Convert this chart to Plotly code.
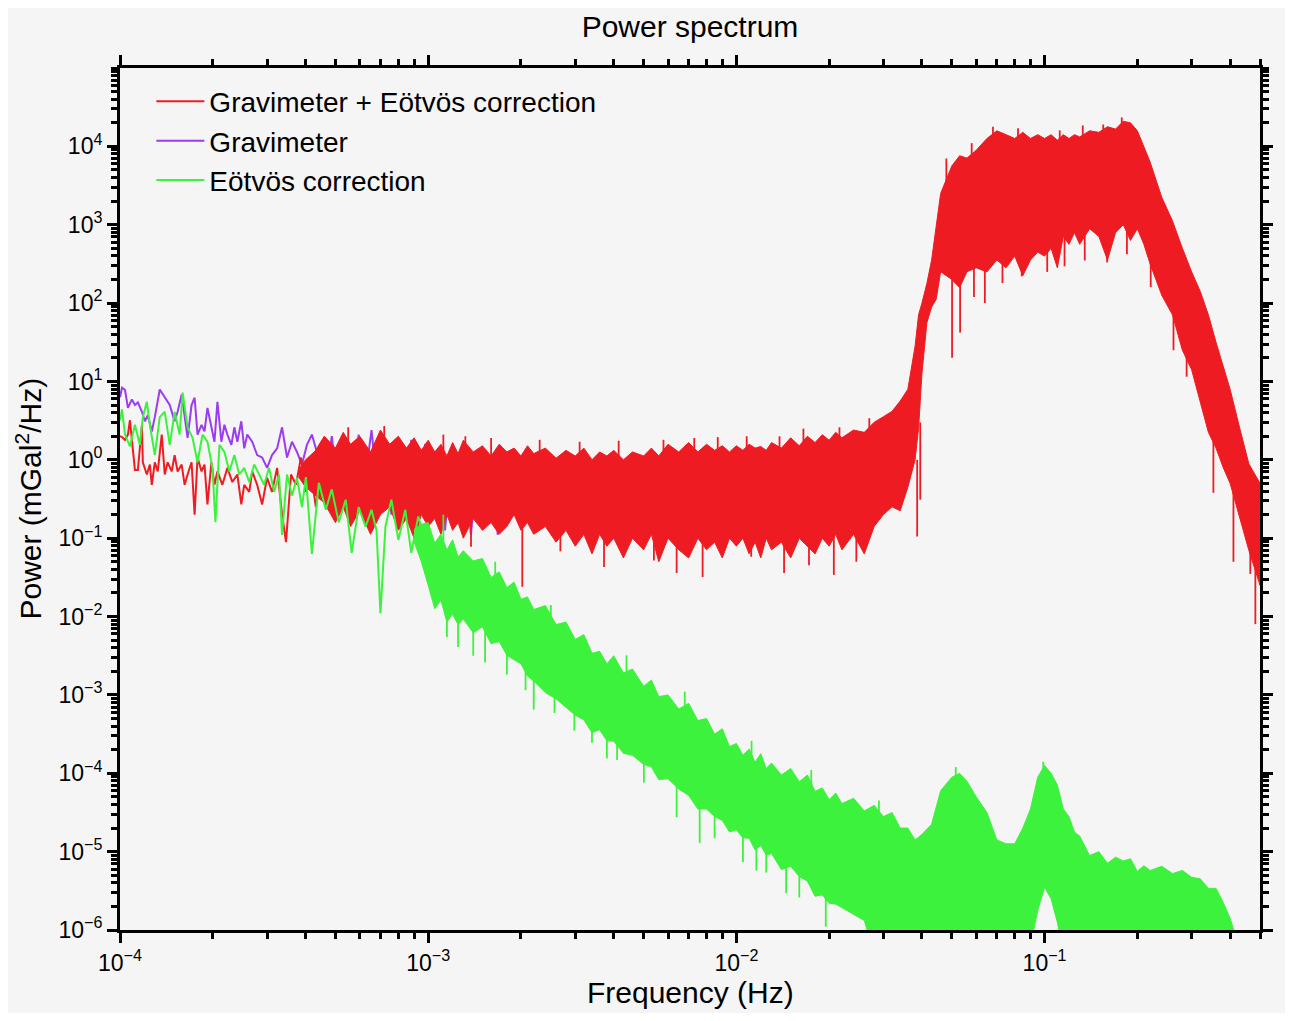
import plotly.graph_objects as go

# ---------------- data ----------------
# Gravimeter (purple) - visible low-frequency part
grav_freq = [1.000e-4, 1.015e-4, 1.038e-4, 1.061e-4, 1.093e-4, 1.118e-4, 1.143e-4, 1.178e-4, 1.204e-4, 1.231e-4,
             1.268e-4, 1.297e-4, 1.346e-4, 1.397e-4, 1.450e-4, 1.504e-4, 1.538e-4, 1.585e-4, 1.621e-4, 1.657e-4,
             1.707e-4, 1.746e-4, 1.785e-4, 1.839e-4, 1.880e-4, 1.922e-4, 1.980e-4, 2.025e-4, 2.071e-4, 2.133e-4,
             2.182e-4, 2.231e-4, 2.298e-4, 2.350e-4, 2.403e-4, 2.475e-4, 2.530e-4, 2.588e-4, 2.685e-4, 2.787e-4,
             2.892e-4, 3.001e-4, 3.114e-4, 3.234e-4, 3.356e-4, 3.483e-4, 3.615e-4, 3.752e-4, 3.894e-4, 4.041e-4,
             4.194e-4, 4.353e-4, 4.517e-4, 4.653e-4, 4.866e-4, 5.126e-4, 5.400e-4, 5.646e-4, 5.946e-4, 6.263e-4,
             6.548e-4, 6.897e-4, 7.265e-4, 7.596e-4, 8.001e-4, 8.428e-4, 8.813e-4, 9.284e-4, 9.779e-4, 1.023e-3,
             1.077e-3, 1.134e-3, 1.186e-3, 1.250e-3, 1.317e-3, 1.376e-3, 1.450e-3, 1.527e-3, 1.597e-3, 1.682e-3]
grav_power = [6.3, 8.3, 7.8, 4.6, 5.9, 5.0, 5.4, 4.1, 3.1, 3.7,
              2.3, 3.5, 7.9, 6.2, 5.0, 3.1, 4.1, 6.8, 3.7, 1.9,
              5.0, 6.2, 2.1, 2.8, 2.3, 4.6, 2.6, 1.7, 5.5, 1.7,
              2.8, 2.1, 1.55, 2.6, 1.7, 3.1, 1.4, 2.1, 1.7, 1.15,
              1.07, 0.79, 1.15, 1.4, 2.6, 1.07, 1.7, 1.26, 0.87, 1.55,
              2.1, 1.26, 1.7, 0.50, 2.0, 0.35, 1.8, 0.25, 2.1, 0.63,
              2.4, 0.32, 1.6, 0.20, 1.4, 0.40, 1.8, 0.14, 1.6, 0.28,
              1.26, 0.126, 1.12, 0.25, 1.4, 0.11, 1.0, 0.20, 0.89, 0.11]

# Gravimeter + Eotvos correction (red) - sparse low-frequency line
comb_freq = [1.000e-4, 1.015e-4, 1.038e-4, 1.061e-4, 1.077e-4, 1.101e-4, 1.118e-4, 1.143e-4, 1.178e-4, 1.186e-4,
             1.222e-4, 1.250e-4, 1.268e-4, 1.297e-4, 1.326e-4, 1.366e-4, 1.397e-4, 1.428e-4, 1.471e-4, 1.504e-4,
             1.538e-4, 1.585e-4, 1.621e-4, 1.657e-4, 1.707e-4, 1.746e-4, 1.785e-4, 1.839e-4, 1.880e-4, 1.922e-4,
             1.980e-4, 2.025e-4, 2.071e-4, 2.149e-4, 2.231e-4, 2.315e-4, 2.403e-4, 2.475e-4, 2.530e-4, 2.627e-4,
             2.685e-4, 2.787e-4, 2.892e-4, 3.001e-4, 3.114e-4, 3.234e-4, 3.356e-4, 3.457e-4, 3.588e-4, 3.724e-4,
             3.865e-4, 4.011e-4, 4.163e-4, 4.320e-4, 4.484e-4]
comb_power = [2.0, 1.95, 1.8, 2.1, 3.2, 1.26, 0.74, 0.74, 2.8, 0.93,
              0.65, 0.87, 0.48, 0.93, 0.71, 2.1, 0.65, 0.93, 0.71, 1.15,
              0.71, 0.87, 0.48, 0.65, 0.93, 0.20, 1.07, 0.71, 0.87, 0.27,
              0.93, 0.48, 0.71, 0.48, 0.79, 0.52, 0.65, 0.27, 0.48, 0.39,
              0.71, 0.48, 0.27, 0.59, 0.39, 0.79, 0.20, 0.089, 0.65, 0.48,
              1.07, 0.39, 0.71, 0.25, 0.65]

# red: dense part, upper and lower envelope of the spectrum body
comb_band_freq = [3.8e-4, 4.0e-4, 4.3e-4,
                  4.6e-4, 5.0e-4, 5.3e-4, 5.6e-4, 6.0e-4, 6.5e-4, 7.0e-4, 7.5e-4, 8.0e-4, 8.5e-4, 9.0e-4, 9.5e-4,
                  1.0e-3, 1.05e-3, 1.1e-3, 1.15e-3, 1.2e-3, 1.25e-3, 1.3e-3, 1.4e-3, 1.5e-3, 1.6e-3,
                  1.7e-3, 1.8e-3, 1.9e-3, 2.0e-3, 2.1e-3, 2.2e-3, 2.4e-3, 2.6e-3, 2.8e-3, 3.0e-3,
                  3.2e-3, 3.4e-3, 3.6e-3, 3.8e-3, 4.0e-3, 4.3e-3, 4.6e-3, 5.0e-3, 5.3e-3, 5.6e-3,
                  6.0e-3, 6.5e-3, 7.0e-3, 7.5e-3, 8.0e-3, 8.5e-3, 9.0e-3, 9.5e-3,
                  1.0e-2, 1.05e-2, 1.1e-2, 1.15e-2, 1.2e-2, 1.25e-2, 1.3e-2, 1.4e-2, 1.5e-2, 1.6e-2,
                  1.7e-2, 1.8e-2, 1.9e-2, 2.0e-2, 2.1e-2, 2.2e-2, 2.4e-2, 2.6e-2, 2.8e-2, 3.0e-2,
                  3.2e-2, 3.4e-2, 3.6e-2, 3.8e-2, 3.9e-2, 4.0e-2, 4.15e-2, 4.3e-2, 4.45e-2, 4.6e-2,
                  5.0e-2, 5.3e-2, 5.6e-2, 6.0e-2, 6.5e-2, 7.0e-2, 7.5e-2, 8.0e-2, 8.5e-2, 9.0e-2, 9.5e-2,
                  1.0e-1, 1.05e-1, 1.1e-1, 1.15e-1, 1.2e-1, 1.25e-1, 1.3e-1, 1.4e-1, 1.5e-1, 1.6e-1,
                  1.7e-1, 1.8e-1, 1.9e-1, 2.0e-1, 2.1e-1, 2.2e-1, 2.4e-1, 2.6e-1, 2.8e-1, 3.0e-1,
                  3.2e-1, 3.4e-1, 3.6e-1, 3.8e-1, 4.0e-1, 4.3e-1, 4.6e-1, 5.0e-1]
comb_band_top = [0.75, 1.0, 1.3,
                 2.0, 1.41, 2.24, 1.58, 2.0, 1.26, 2.4, 1.58, 2.0, 1.41, 1.91, 1.32,
                 1.78, 1.26, 1.58, 1.12, 1.66, 1.20, 1.78, 1.26, 1.51, 1.12,
                 1.58, 1.26, 1.41, 1.12, 1.51, 1.20, 1.41, 1.05, 1.32, 1.12,
                 1.41, 1.0, 1.26, 1.12, 1.32, 1.0, 1.26, 1.12, 1.41, 1.12,
                 1.58, 1.26, 1.66, 1.26, 1.58, 1.32, 1.51, 1.26,
                 1.51, 1.32, 1.58, 1.41, 1.48, 1.32, 1.66, 1.41, 1.91, 1.51,
                 2.0, 1.66, 2.09, 1.78, 2.24, 1.91, 2.4, 2.24, 3.02, 3.55,
                 4.17, 5.62, 7.94, 28.2, 70.8, 100, 178, 355, 891, 2510,
                 5620, 7590, 7080, 8910, 12600, 15800, 14100, 12600, 15100, 12600, 14100,
                 12600, 14100, 12000, 14100, 12600, 14100, 13200, 15800, 15100, 17800,
                 16600, 20900, 20000, 15800, 10000, 6310, 2240, 1120, 501, 251,
                 141, 70.8, 31.6, 15.8, 7.94, 2.51, 0.891, 0.501]
comb_band_bottom = [0.6, 0.45, 0.35,
                    0.282, 0.158, 0.251, 0.141, 0.224, 0.112, 0.20, 0.251, 0.126, 0.178, 0.10, 0.20,
                    0.141, 0.178, 0.112, 0.20, 0.126, 0.158, 0.10, 0.178, 0.126, 0.158,
                    0.112, 0.141, 0.20, 0.126, 0.158, 0.112, 0.141, 0.089, 0.126, 0.079,
                    0.112, 0.063, 0.112, 0.079, 0.10, 0.056, 0.10, 0.071, 0.112, 0.050,
                    0.10, 0.071, 0.056, 0.10, 0.071, 0.089, 0.056, 0.10,
                    0.079, 0.10, 0.063, 0.089, 0.056, 0.10, 0.071, 0.089, 0.056, 0.10,
                    0.079, 0.063, 0.10, 0.079, 0.112, 0.071, 0.112, 0.063, 0.141, 0.20,
                    0.251, 0.224, 0.447, 1.0, 2.5, 12.6, 56.2, 89.1, 112, 251,
                    200, 158, 251, 282, 250, 355, 282, 398, 224, 355, 447,
                    398, 501, 282, 708, 562, 794, 562, 891, 708, 355,
                    794, 1000, 631, 891, 562, 316, 126, 70.8, 25.1, 14.1,
                    5.62, 2.24, 1.41, 0.794, 0.5, 0.178, 0.07, 0.025]

# red: isolated deep dips (frequency, value inside body, dip value)
comb_dip_freq = [1.377e-3, 2.02e-3, 2.685e-3, 3.72e-3, 5.40e-3, 6.40e-3, 7.77e-3, 1.117e-2, 1.428e-2, 1.72e-2,
                 2.071e-2, 2.45e-2, 3.86e-2, 3.95e-2, 5.01e-2, 5.32e-2, 5.9e-2, 6.40e-2, 7.3e-2, 8.43e-2,
                 1.02e-1, 1.161e-1, 1.35e-1, 1.596e-1, 1.85e-1, 2.21e-1, 2.62e-1, 2.89e-1, 3.36e-1, 3.53e-1,
                 4.10e-1, 4.65e-1, 4.83e-1]
comb_dip_from = [0.3, 0.3, 0.3, 0.3, 0.3, 0.3, 0.3, 0.3, 0.3, 0.3,
                 0.3, 0.3, 1.0, 3.0, 1000, 1000, 1000, 1000, 1000, 1000,
                 1000, 1000, 1000, 1000, 1000, 1000, 200, 100, 20, 10,
                 1.0, 0.3, 0.3]
comb_dip_to = [0.078, 0.024, 0.068, 0.043, 0.052, 0.036, 0.032, 0.058, 0.036, 0.045,
               0.034, 0.05, 0.105, 0.31, 20, 42, 120, 100, 180, 220,
               250, 295, 350, 330, 420, 160, 25, 11.5, 3.2, 0.38,
               0.05, 0.035, 0.008]
# red: isolated peaks (frequency, value inside body, peak value)
comb_peak_freq = [5.5e-4, 7.2e-4, 1.12e-3, 1.32e-3, 1.6e-3, 2.3e-3, 3.1e-3, 4.15e-3, 5.8e-3, 7.3e-3,
                  8.7e-3, 1.08e-2, 1.38e-2, 1.65e-2, 2.16e-2, 2.7e-2, 3.3e-2, 4.8e-2, 5.8e-2, 6.8e-2,
                  8.2e-2, 1.12e-1, 1.33e-1, 1.55e-1, 1.78e-1]
comb_peak_from = [0.5, 0.5, 0.5, 0.5, 0.5, 0.5, 0.5, 0.5, 0.5, 0.5,
                  0.5, 0.5, 0.5, 0.5, 0.5, 1.0, 1.0, 3000, 5000, 5000,
                  5000, 5000, 5000, 5000, 5000]
comb_peak_to = [2.6, 2.7, 2.1, 2.0, 1.9, 1.8, 1.7, 1.75, 1.8, 1.9,
                1.95, 2.0, 2.0, 2.5, 2.6, 3.4, 3.7, 7000, 11000, 17800,
                17000, 16000, 18500, 19000, 23400]

# Eotvos correction (green) - sparse low-frequency line
eot_freq = [1.000e-4, 1.015e-4, 1.038e-4, 1.077e-4, 1.118e-4, 1.160e-4, 1.186e-4, 1.222e-4, 1.250e-4, 1.297e-4,
            1.346e-4, 1.397e-4, 1.450e-4, 1.504e-4, 1.561e-4, 1.597e-4, 1.657e-4, 1.720e-4, 1.785e-4, 1.852e-4,
            1.922e-4, 1.995e-4, 2.040e-4, 2.102e-4, 2.182e-4, 2.264e-4, 2.350e-4, 2.438e-4, 2.530e-4, 2.627e-4,
            2.726e-4, 2.828e-4, 2.935e-4, 3.046e-4, 3.162e-4, 3.282e-4, 3.356e-4, 3.483e-4, 3.615e-4, 3.752e-4,
            3.894e-4, 4.011e-4, 4.194e-4, 4.418e-4, 4.653e-4, 4.866e-4, 5.126e-4, 5.400e-4, 5.646e-4, 5.946e-4,
            6.263e-4, 6.548e-4, 6.796e-4, 7.000e-4, 7.265e-4, 7.596e-4, 8.001e-4, 8.428e-4, 8.813e-4, 9.284e-4,
            9.779e-4]
eot_power = [3.2, 4.4, 2.1, 1.48, 2.8, 1.55, 3.5, 5.5, 2.8, 1.15,
             3.5, 4.1, 1.55, 4.1, 2.1, 7.2, 2.6, 1.9, 0.93, 2.1,
             1.7, 0.79, 0.16, 1.55, 1.26, 0.71, 1.15, 0.65, 0.79, 0.52,
             0.87, 0.65, 0.48, 0.79, 0.39, 0.65, 0.11, 0.65, 0.35, 0.59,
             0.25, 0.60, 0.063, 0.51, 0.23, 0.42, 0.16, 0.31, 0.065, 0.25,
             0.14, 0.23, 0.126, 0.011, 0.14, 0.31, 0.095, 0.23, 0.065, 0.19,
             0.095]

# green: dense part, upper and lower envelope of the spectrum body
eot_band_freq = [9.0e-4, 9.5e-4,
                 1.0e-3, 1.05e-3, 1.1e-3, 1.15e-3, 1.2e-3, 1.25e-3, 1.3e-3, 1.4e-3, 1.5e-3, 1.6e-3,
                 1.7e-3, 1.8e-3, 1.9e-3, 2.0e-3, 2.1e-3, 2.2e-3, 2.4e-3, 2.6e-3, 2.8e-3, 3.0e-3,
                 3.2e-3, 3.4e-3, 3.6e-3, 3.8e-3, 4.0e-3, 4.3e-3, 4.6e-3, 5.0e-3, 5.3e-3, 5.6e-3,
                 6.0e-3, 6.5e-3, 7.0e-3, 7.5e-3, 8.0e-3, 8.5e-3, 9.0e-3, 9.5e-3,
                 1.0e-2, 1.05e-2, 1.1e-2, 1.15e-2, 1.2e-2, 1.25e-2, 1.3e-2, 1.4e-2, 1.5e-2, 1.6e-2,
                 1.7e-2, 1.8e-2, 1.9e-2, 2.0e-2, 2.1e-2, 2.2e-2, 2.4e-2, 2.6e-2, 2.8e-2, 3.0e-2,
                 3.2e-2, 3.4e-2, 3.6e-2, 3.8e-2, 4.0e-2, 4.3e-2, 4.6e-2, 5.0e-2, 5.3e-2, 5.6e-2,
                 6.0e-2, 6.5e-2, 7.0e-2, 7.5e-2, 8.0e-2, 8.5e-2, 9.0e-2, 9.5e-2,
                 1.0e-1, 1.05e-1, 1.1e-1, 1.15e-1, 1.2e-1, 1.25e-1, 1.3e-1, 1.4e-1, 1.5e-1, 1.6e-1,
                 1.7e-1, 1.8e-1, 1.9e-1, 2.0e-1, 2.1e-1, 2.2e-1, 2.4e-1, 2.6e-1, 2.8e-1, 3.0e-1,
                 3.2e-1, 3.4e-1, 3.6e-1, 3.8e-1, 4.0e-1, 4.15e-1]
eot_band_top = [0.13, 0.15,
                0.158, 0.087, 0.112, 0.0708, 0.0955, 0.0575, 0.0692, 0.0513, 0.055, 0.0316,
                0.0372, 0.0234, 0.0275, 0.0166, 0.0178, 0.0123, 0.0138, 7.9e-3, 8.5e-3, 5.1e-3,
                5.9e-3, 3.4e-3, 3.6e-3, 2.5e-3, 3.16e-3, 1.91e-3, 2.14e-3, 1.29e-3, 1.55e-3, 9.5e-4,
                1.0e-3, 6.6e-4, 7.8e-4, 4.7e-4, 5.0e-4, 3.16e-4, 3.7e-4, 2.19e-4,
                2.4e-4, 1.7e-4, 2.04e-4, 1.38e-4, 1.78e-4, 1.15e-4, 1.35e-4, 9.5e-5, 1.15e-4, 7.8e-5,
                9.5e-5, 5.9e-5, 6.5e-5, 4.6e-5, 5.6e-5, 4.1e-5, 4.8e-5, 3.3e-5, 3.9e-5, 2.8e-5,
                3.16e-5, 2.0e-5, 2.0e-5, 1.41e-5, 1.66e-5, 2.24e-5, 6.0e-5, 8.9e-5, 1.0e-4, 7.9e-5,
                5.0e-5, 3.16e-5, 1.41e-5, 1.26e-5, 1.26e-5, 2.0e-5, 3.5e-5, 8.9e-5,
                1.26e-4, 1.0e-4, 7.1e-5, 3.5e-5, 2.8e-5, 1.78e-5, 1.58e-5, 8.9e-6, 1.0e-5, 7.1e-6,
                8.5e-6, 7.6e-6, 8.1e-6, 5.6e-6, 6.6e-6, 5.75e-6, 6.5e-6, 5.25e-6, 5.75e-6, 4.7e-6,
                4.5e-6, 3.4e-6, 3.4e-6, 2.24e-6, 1.41e-6, 8.9e-7]
eot_band_bottom = [0.09, 0.05,
                   0.0251, 0.0126, 0.0162, 8.5e-3, 0.0107, 7.9e-3, 9.3e-3, 6.2e-3, 7.4e-3, 4.5e-3,
                   4.8e-3, 3.2e-3, 2.8e-3, 2.5e-3, 1.74e-3, 1.5e-3, 1.07e-3, 8.9e-4, 6.9e-4, 5.5e-4,
                   4.8e-4, 3.3e-4, 3.6e-4, 2.6e-4, 2.57e-4, 1.8e-4, 1.7e-4, 1.3e-4, 1.2e-4, 8.3e-5,
                   8.5e-5, 6.3e-5, 5.2e-5, 3.5e-5, 3.5e-5, 2.8e-5, 2.5e-5, 1.78e-5,
                   1.9e-5, 1.5e-5, 1.48e-5, 1.05e-5, 1.2e-5, 9.0e-6, 9.5e-6, 5.9e-6, 6.5e-6, 4.8e-6,
                   4.2e-6, 2.7e-6, 2.8e-6, 2.2e-6, 2.14e-6, 1.9e-6, 1.58e-6, 1.32e-6, 5e-7, 5e-7,
                   5e-7, 5e-7, 5e-7, 5e-7, 5e-7, 5e-7, 5e-7, 5e-7, 5e-7, 5e-7,
                   5e-7, 5e-7, 5e-7, 5e-7, 5e-7, 5e-7, 6.3e-7, 1.78e-6,
                   3.5e-6, 2.5e-6, 1.26e-6, 5e-7, 5e-7, 5e-7, 5e-7, 5e-7, 5e-7, 5e-7,
                   5e-7, 5e-7, 5e-7, 5e-7, 5e-7, 5e-7, 5e-7, 5e-7, 5e-7, 5e-7,
                   5e-7, 5e-7, 5e-7, 5e-7, 5e-7, 5e-7]

# green: isolated dips and peaks (frequency, value inside body, extreme value)
eot_dip_freq = [1.15e-3, 1.25e-3, 1.40e-3, 1.53e-3, 1.80e-3, 2.07e-3, 2.2e-3, 2.57e-3, 2.98e-3, 3.40e-3,
                3.8e-3, 4.10e-3, 5.01e-3, 6.40e-3, 7.60e-3, 8.5e-3, 1.05e-2, 1.161e-2, 1.25e-2, 1.45e-2,
                1.6e-2, 1.95e-2]
eot_dip_from = [0.02, 0.02, 0.015, 0.01, 0.008, 0.005, 0.004, 3e-3, 2e-3, 1.5e-3,
                1e-3, 8e-4, 5e-4, 3e-4, 1.5e-4, 1e-4, 5e-5, 4e-5, 4e-5, 3e-5,
                2e-5, 1.5e-5]
eot_dip_to = [5.5e-3, 4.1e-3, 3.16e-3, 2.6e-3, 1.82e-3, 1.15e-3, 6.5e-4, 5.9e-4, 3.5e-4, 2.45e-4,
              1.55e-4, 1.48e-4, 7.6e-5, 2.75e-5, 1.29e-5, 1.48e-5, 7.4e-6, 5.75e-6, 5.4e-6, 2.95e-6,
              2.6e-6, 1.1e-6]
eot_peak_freq = [1.12e-3, 1.65e-3, 2.5e-3, 4.4e-3, 6.8e-3, 1.12e-2, 1.75e-2, 2.9e-2, 5.15e-2, 9.9e-2]
eot_peak_from = [0.05, 0.02, 5e-3, 1e-3, 5e-4, 1e-4, 5e-5, 2e-5, 5e-5, 1e-4]
eot_peak_to = [0.2, 0.05, 0.014, 3.2e-3, 1.1e-3, 2.6e-4, 1.1e-4, 4.5e-5, 1.2e-4, 1.4e-4]

# axis ticks
x_tick_vals = [1e-4, 1e-3, 1e-2, 1e-1]
x_tick_text = ["10<sup>\u22124</sup>", "10<sup>\u22123</sup>", "10<sup>\u22122</sup>", "10<sup>\u22121</sup>"]
y_tick_vals = [1e-6, 1e-5, 1e-4, 1e-3, 1e-2, 1e-1, 1e0, 1e1, 1e2, 1e3, 1e4]
y_tick_text = ["10<sup>\u22126</sup>", "10<sup>\u22125</sup>", "10<sup>\u22124</sup>", "10<sup>\u22123</sup>",
               "10<sup>\u22122</sup>", "10<sup>\u22121</sup>", "10<sup>0</sup>", "10<sup>1</sup>",
               "10<sup>2</sup>", "10<sup>3</sup>", "10<sup>4</sup>"]

assert len(grav_freq) == len(grav_power)
assert len(comb_freq) == len(comb_power)
assert len(eot_freq) == len(eot_power)
assert len(comb_band_freq) == len(comb_band_top) == len(comb_band_bottom)
assert len(eot_band_freq) == len(eot_band_top) == len(eot_band_bottom)
assert len(comb_dip_freq) == len(comb_dip_from) == len(comb_dip_to)
assert len(comb_peak_freq) == len(comb_peak_from) == len(comb_peak_to)
assert len(eot_dip_freq) == len(eot_dip_from) == len(eot_dip_to)
assert len(eot_peak_freq) == len(eot_peak_from) == len(eot_peak_to)

RED = "#ee1c22"
PURPLE = "#9b3cf0"
GREEN = "#3df23d"
FONT = "Liberation Sans, Arial, Helvetica, sans-serif"


def band(freq, top, bottom):
    return freq + freq[::-1], top + bottom[::-1]


def spikes(freq, start, end):
    xs, ys = [], []
    for f, a, b in zip(freq, start, end):
        xs += [f, f, None]
        ys += [a, b, None]
    return xs, ys


fig = go.Figure()

fig.add_trace(go.Scatter(x=grav_freq, y=grav_power, mode="lines", name="Gravimeter",
                         line=dict(color=PURPLE, width=2), legendrank=2))

fig.add_trace(go.Scatter(x=comb_freq, y=comb_power, mode="lines", name="Gravimeter + E\u00f6tv\u00f6s correction",
                         line=dict(color=RED, width=2), legendrank=1))
bx, by = band(comb_band_freq, comb_band_top, comb_band_bottom)
fig.add_trace(go.Scatter(x=bx, y=by, mode="lines", fill="toself", fillcolor=RED,
                         line=dict(color=RED, width=1), showlegend=False, hoverinfo="skip"))
sx, sy = spikes(comb_dip_freq + comb_peak_freq, comb_dip_from + comb_peak_from, comb_dip_to + comb_peak_to)
fig.add_trace(go.Scatter(x=sx, y=sy, mode="lines", line=dict(color=RED, width=1.8),
                         showlegend=False, hoverinfo="skip"))

fig.add_trace(go.Scatter(x=eot_freq, y=eot_power, mode="lines", name="E\u00f6tv\u00f6s correction",
                         line=dict(color=GREEN, width=2), legendrank=3))
gx, gy = band(eot_band_freq, eot_band_top, eot_band_bottom)
fig.add_trace(go.Scatter(x=gx, y=gy, mode="lines", fill="toself", fillcolor=GREEN,
                         line=dict(color=GREEN, width=1), showlegend=False, hoverinfo="skip"))
ex, ey = spikes(eot_dip_freq + eot_peak_freq, eot_dip_from + eot_peak_from, eot_dip_to + eot_peak_to)
fig.add_trace(go.Scatter(x=ex, y=ey, mode="lines", line=dict(color=GREEN, width=1.8),
                         showlegend=False, hoverinfo="skip"))

axis_common = dict(
    type="log", showline=True, linecolor="black", linewidth=3, mirror="allticks",
    ticks="outside", ticklen=10, tickwidth=3, tickcolor="black",
    showgrid=False, zeroline=False, tickmode="array",
    tickfont=dict(family=FONT, size=23, color="black"),
    minor=dict(ticks="outside", ticklen=6, tickwidth=2.5, tickcolor="black", dtick="D1", showgrid=False),
)

fig.update_xaxes(range=[-4, -0.30103], tickvals=x_tick_vals, ticktext=x_tick_text, **axis_common)
fig.update_yaxes(range=[-6, 5], tickvals=y_tick_vals, ticktext=y_tick_text, **axis_common)

fig.update_layout(
    width=1277, height=1005,
    paper_bgcolor="#f5f5f5", plot_bgcolor="#f5f5f5",
    margin=dict(l=112, r=18, t=60, b=83),
    font=dict(family=FONT, color="black"),
    title=dict(text="Power spectrum", x=0.5, xref="paper", xanchor="center",
               y=1 - 18 / 1005, yref="container", yanchor="middle",
               font=dict(family=FONT, size=30, color="black")),
    legend=dict(x=0.0275, y=0.99, xanchor="left", yanchor="top", bgcolor="rgba(0,0,0,0)",
                font=dict(family=FONT, size=28, color="black"), tracegroupgap=0, itemwidth=48),
    annotations=[
        dict(text="Frequency (Hz)", xref="paper", yref="paper", x=0.5, y=-62 / 862,
             xanchor="center", yanchor="middle", showarrow=False,
             font=dict(family=FONT, size=30, color="black")),
        dict(text="Power (mGal<sup>2</sup>/Hz)", xref="paper", yref="paper", x=-92 / 1147, y=0.5,
             xanchor="center", yanchor="middle", textangle=-90, showarrow=False,
             font=dict(family=FONT, size=30, color="black")),
    ],
)

fig.write_html("out.html")
